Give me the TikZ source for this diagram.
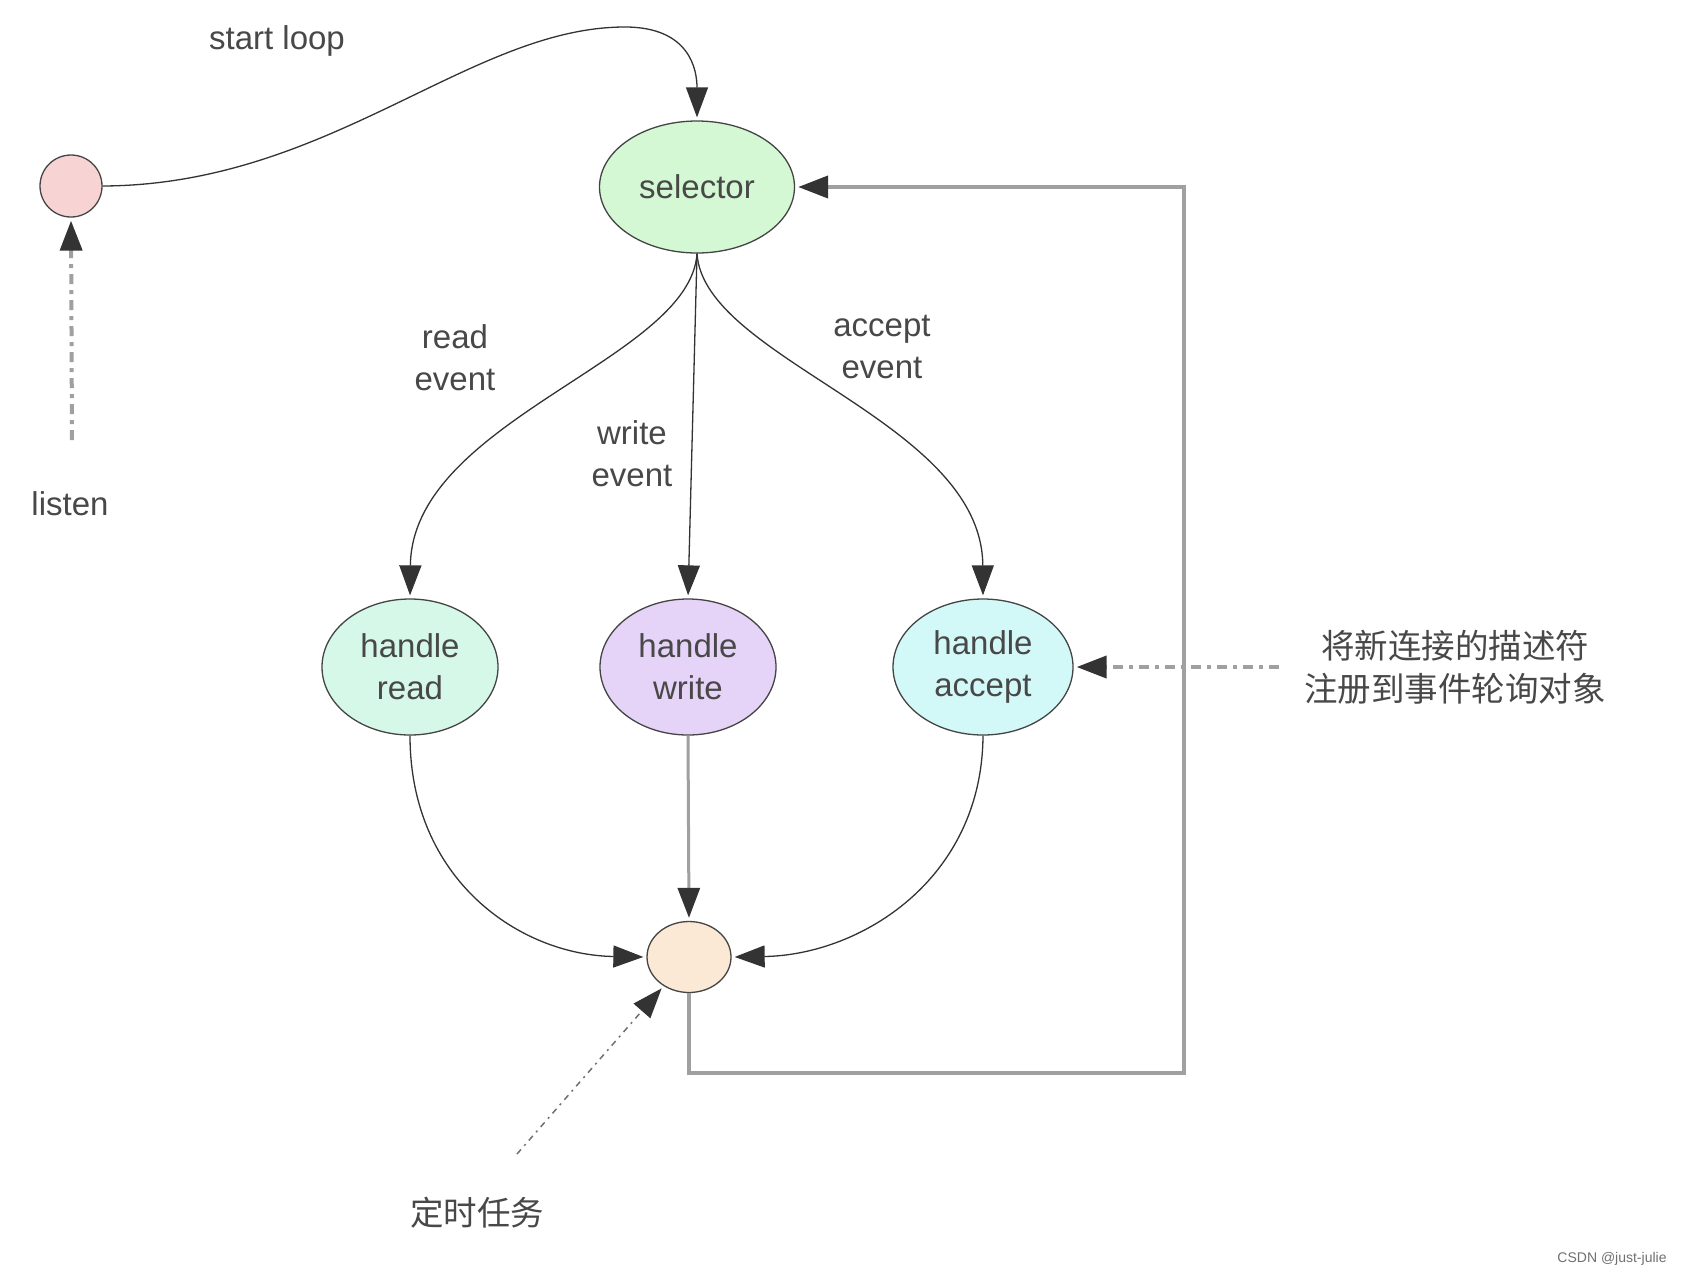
\documentclass[tikz,border=0pt]{standalone}
\usepackage{fontspec}
\setmainfont{Liberation Sans}
\newfontfamily\cjk{Noto Sans CJK SC}
\usetikzlibrary{arrows.meta,shapes.geometric}
\definecolor{cpink}{HTML}{F8D3D3}
\definecolor{cgreen}{HTML}{D3F8D3}
\definecolor{cmint}{HTML}{D5F8E8}
\definecolor{clav}{HTML}{E5D3F8}
\definecolor{ccyan}{HTML}{D3F8F8}
\definecolor{cpeach}{HTML}{FBE9D5}
\definecolor{bordc}{HTML}{444444}
\definecolor{linec}{HTML}{333333}
\definecolor{greyl}{HTML}{A0A0A0}
\definecolor{txtc}{HTML}{484848}
\begin{document}
\begin{tikzpicture}[x=1pt,y=-1pt,
  st/.style={ellipse, draw=bordc, line width=1.3pt, inner sep=0pt, align=center,
    text=txtc, font=\fontsize{33}{42}\selectfont},
  lbl/.style={text=txtc, align=center, font=\fontsize{33}{42}\selectfont},
  tip/.style={-{Triangle[length=30pt,width=22pt,color=linec]}, shorten >=3pt},
  arr/.style={tip, draw=linec, line width=1.3pt},
  garr/.style={tip, draw=greyl, line width=4pt},
  dd/.style={tip, draw=greyl, line width=4pt, dash pattern=on 10pt off 6pt on 4pt off 6pt}
]
\path[use as bounding box, fill=white] (0,0) rectangle (1688,1278);

\node[st, fill=cpink, minimum width=62, minimum height=62] (listen) at (71,186) {};
\node[st, fill=cgreen, minimum width=195, minimum height=132] (selector) at (697,187) {selector};
\node[st, fill=cmint, minimum width=176, minimum height=136] (hread) at (410,667) {handle\\read};
\node[st, fill=clav, minimum width=176, minimum height=136] (hwrite) at (688,667) {handle\\write};
\node[st, fill=ccyan, minimum width=180, minimum height=136] (haccept) at (983,667) {handle\\accept};
\node[st, fill=cpeach, minimum width=84, minimum height=71] (bottom) at (689,957) {};

\node[lbl] (lstart) at (277,41) {start loop};
\node[lbl] (llisten) at (70,504) {listen};
\node[lbl] (lread) at (455,358) {read\\event};
\node[lbl] (lwrite) at (632,454) {write\\event};
\node[lbl] (laccept) at (882,347) {accept\\event};
\node[lbl, font=\cjk\fontsize{33.5}{43}\selectfont] (lreg) at (1455,667) {将新连接的描述符\\注册到事件轮询对象};
\node[lbl, font=\cjk\fontsize{33.5}{42}\selectfont] (ltimer) at (477,1213) {定时任务};
\node[text=greyl!70!black, font=\fontsize{14}{16}\selectfont] (wm) at (1612,1259) {CSDN @just-julie};

% loop back
\coordinate (c1) at (1184,1073);
\coordinate (c2) at (1184,187);
\draw[garr] (bottom.south) |- (c1) -- (c2) -- (selector.east);

% start loop
\draw[arr] (listen.east) .. controls (330,185) and (470,27) .. (625,27)
  .. controls (690,27) and (697,70) .. (selector.north);

% selector to handlers
\draw[arr] (selector.south) .. controls (690,360) and (412,420) .. (hread.north);
\draw[arr] (selector.south) -- (hwrite.north);
\draw[arr] (selector.south) .. controls (704,360) and (982,420) .. (haccept.north);

% handlers to bottom
\draw[arr] (hread.south) .. controls (410,880) and (520,955) .. (bottom.west);
\draw[garr, line width=3pt] (hwrite.south) -- (bottom.north);
\draw[arr] (haccept.south) .. controls (982,880) and (860,955) .. (bottom.east);

% dash-dot connectors
\coordinate (lsrc) at (72,440);
\draw[dd] (lsrc) -- (listen.south);
\coordinate (rsrc) at (1279,667);
\draw[dd] (rsrc) -- (haccept.east);
\coordinate (tsrc) at (517,1154);
\draw[dd, draw=greyl!70!black, line width=1.5pt, dash pattern=on 6pt off 5pt on 2pt off 5pt] (tsrc) -- (bottom);
\end{tikzpicture}
\end{document}
